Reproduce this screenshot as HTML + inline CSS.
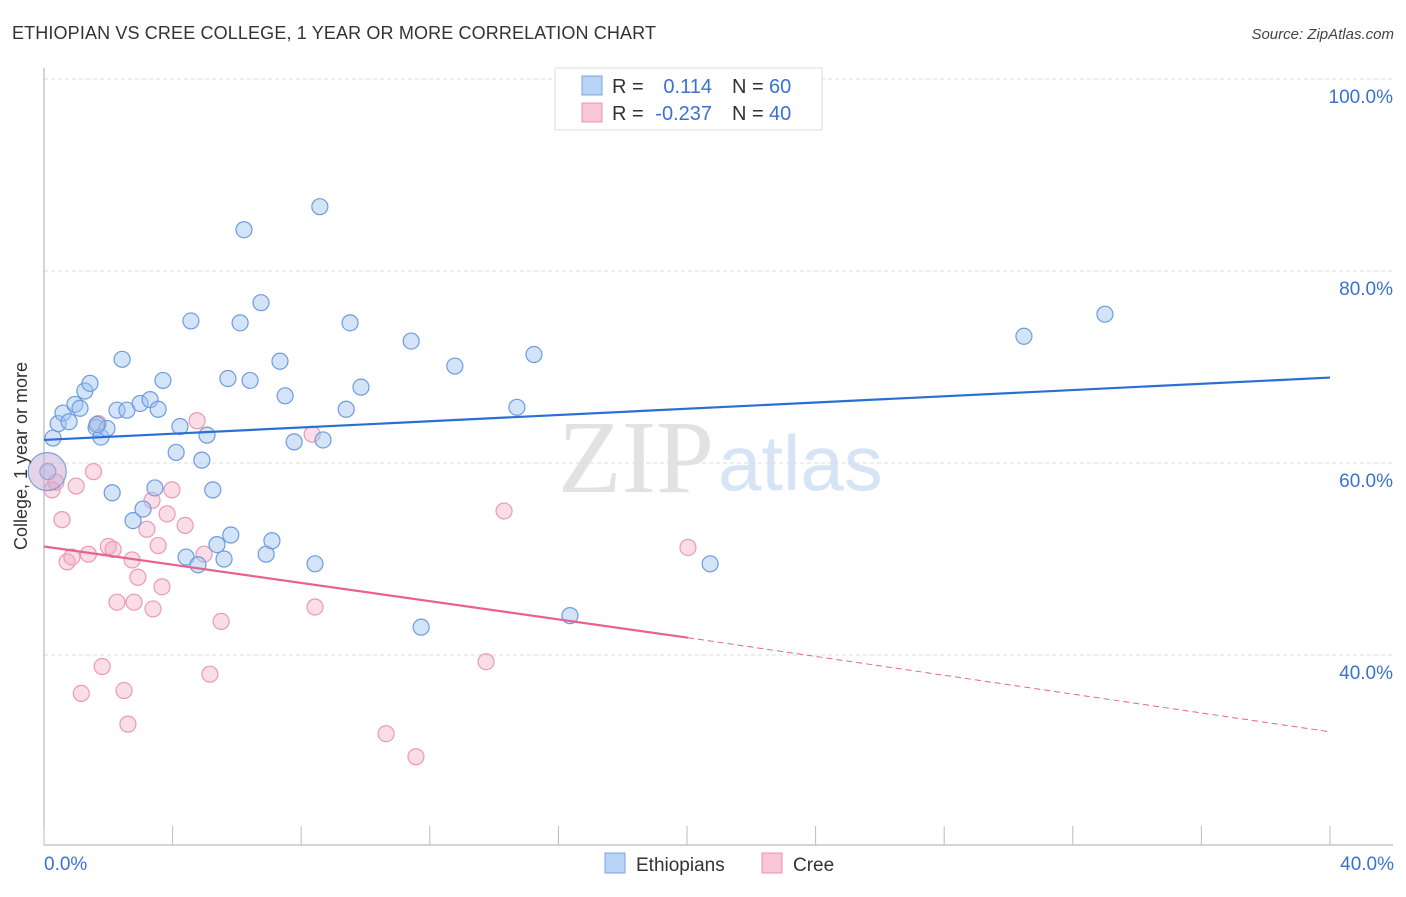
<!DOCTYPE html>
<html><head><meta charset="utf-8"><style>
body{margin:0;background:#fff;width:1406px;height:892px;overflow:hidden;font-family:"Liberation Sans",sans-serif}
</style></head><body>
<svg id="c" width="1406" height="892" xmlns="http://www.w3.org/2000/svg">
<text x="12" y="39" font-size="18" fill="#333" textLength="644">ETHIOPIAN VS CREE COLLEGE, 1 YEAR OR MORE CORRELATION CHART</text>
<text x="1394" y="39" font-size="15" fill="#444" font-style="italic" text-anchor="end">Source: ZipAtlas.com</text>
<text x="714" y="492" font-size="104" fill="#e2e2e2" font-family="Liberation Serif,serif" text-anchor="end">ZIP</text>
<text x="718" y="490" font-size="78" fill="#d6e4f6">atlas</text>
<g id="grid"></g><g id="marks"></g>
<text transform="translate(27,456) rotate(-90)" font-size="18" fill="#333" text-anchor="middle">College, 1 year or more</text>
<g>
<rect x="555" y="68" width="267" height="62" fill="#fff" stroke="#ddd"/>
<rect x="582" y="76" width="20" height="19" fill="#b8d3f5" stroke="#7aa6e0"/>
<rect x="582" y="103" width="20" height="19" fill="#f9c6d5" stroke="#ec93ae"/>
<text x="612" y="93" font-size="20" fill="#333">R =</text><text x="712" y="93" font-size="20" fill="#3a72d0" text-anchor="end">0.114</text>
<text x="732" y="93" font-size="20" fill="#333">N =</text><text x="769" y="93" font-size="20" fill="#3a72d0">60</text>
<text x="612" y="120" font-size="20" fill="#333">R =</text><text x="712" y="120" font-size="20" fill="#3a72d0" text-anchor="end">-0.237</text>
<text x="732" y="120" font-size="20" fill="#333">N =</text><text x="769" y="120" font-size="20" fill="#3a72d0">40</text>
</g>
<g>
<rect x="605" y="853" width="20" height="20" fill="#b8d3f5" stroke="#7aa6e0"/>
<text x="636" y="871" font-size="19" fill="#333">Ethiopians</text>
<rect x="762" y="853" width="20" height="20" fill="#f9c6d5" stroke="#ec93ae"/>
<text x="793" y="871" font-size="19" fill="#333">Cree</text>
</g>
</svg>
<script>
const xTicks=[0,10,20,30,40];
const yTicks=[40,60,80,100];
const blueX=[0.28,0.44,0.59,0.78,0.96,1.12,1.27,1.43,1.62,1.77,1.96,2.12,2.27,2.43,2.58,2.77,2.99,3.08,3.30,3.45,3.55,3.70,4.11,4.23,4.42,4.57,4.79,4.91,5.07,5.25,5.38,5.60,5.72,5.81,6.10,6.22,6.41,6.75,6.91,7.09,7.34,7.50,7.78,8.43,8.58,8.68,9.40,9.52,9.86,11.42,11.73,12.78,14.71,15.24,16.36,20.72,30.48,33.00,0.12,1.65];
const blueY=[62.6,64.1,65.2,64.3,66.1,65.7,67.5,68.3,63.7,62.7,63.6,56.9,65.5,70.8,65.5,54.0,66.2,55.2,66.6,57.4,65.6,68.6,61.1,63.8,50.2,74.8,49.4,60.3,62.9,57.2,51.5,50.0,68.8,52.5,74.6,84.3,68.6,76.7,50.5,51.9,70.6,67.0,62.2,49.5,86.7,62.4,65.6,74.6,67.9,72.7,42.9,70.1,65.8,71.3,44.1,49.5,73.2,75.5,59.1,64.0];
const pinkX=[0.25,0.37,0.56,0.72,0.87,1.00,1.16,1.38,1.54,1.69,1.81,2.00,2.15,2.27,2.49,2.61,2.74,2.80,2.92,3.20,3.36,3.39,3.55,3.67,3.83,3.98,4.39,4.76,4.98,5.16,5.51,8.34,8.43,10.64,11.57,13.75,14.31,20.03];
const pinkY=[57.2,58.0,54.1,49.7,50.2,57.6,36.0,50.5,59.1,64.1,38.8,51.3,51.0,45.5,36.3,32.8,49.9,45.5,48.1,53.1,56.1,44.8,51.4,47.1,54.7,57.2,53.5,64.4,50.5,38.0,43.5,63.0,45.0,31.8,29.4,39.3,55.0,51.2];
const bigX=[0.1];const bigY=[59.1];
const sx=v=>44+v/40*1286, sy=v=>79+(100-v)*9.6;
const NS="http://www.w3.org/2000/svg";
const grid=document.getElementById('grid'),marks=document.getElementById('marks');
function mk(tag,attrs,parent){const e=document.createElementNS(NS,tag);for(const k in attrs)e.setAttribute(k,attrs[k]);parent.appendChild(e);return e;}
yTicks.forEach(t=>{
 const l=mk('line',{x1:44,x2:1393,y1:sy(t),y2:sy(t),stroke:'#ddd','stroke-dasharray':'4,3'},grid);
 
 
 const tx=mk('text',{x:1393,y:sy(t)+24,'font-size':19,fill:'#3a72d0','text-anchor':'end'},grid);tx.textContent=t.toFixed(1)+'%';
 
 
});
mk('line',{x1:44,x2:44,y1:68,y2:845,stroke:'#aaa'},grid);
mk('line',{x1:44,x2:1393,y1:845,y2:845,stroke:'#aaa'},grid);
for(let i=0;i<=10;i++){const x=sx(i*4);mk('line',{x1:x,x2:x,y1:826,y2:845,stroke:'#bbb'},grid);}
xTicks.filter(t=>t==0||t==40).forEach(t=>{
 const tx=mk('text',{x:t==0?44:1394,y:870,'font-size':19,fill:'#3a72d0','text-anchor':t==0?'start':'end'},grid);tx.textContent=t.toFixed(1)+'%';
 
 
});
pinkX.forEach((v,i)=>{
 const c=mk('circle',{cx:sx(v),cy:sy(pinkY[i]),r:8,fill:'rgba(246,170,195,0.4)',stroke:'#eb9ab4','stroke-width':1.2},marks);
 
 
});
blueX.forEach((v,i)=>{
 const c=mk('circle',{cx:sx(v),cy:sy(blueY[i]),r:8,fill:'rgba(160,195,240,0.45)',stroke:'#6d9be0','stroke-width':1.2},marks);
 
 
});
bigX.forEach((v,i)=>{
 const c=mk('circle',{cx:sx(v),cy:sy(bigY[i]),r:19,fill:'rgba(200,170,210,0.5)',stroke:'#7aa0e0','stroke-width':1.2},marks);
 
 
});
const bl=mk('line',{x1:sx(0),y1:sy(62.4),x2:sx(40),y2:sy(68.9),stroke:'#2a6fd6','stroke-width':2.2},marks);


const pl=mk('line',{x1:sx(0),y1:sy(51.3),x2:sx(20.03),y2:sy(41.8),stroke:'#e8628f','stroke-width':2.2},marks);


const pd=mk('line',{x1:sx(20.03),y1:sy(41.8),x2:sx(40),y2:sy(32.0),stroke:'#e8628f','stroke-width':1,'stroke-dasharray':'6,4'},marks);


</script>
</body></html>
